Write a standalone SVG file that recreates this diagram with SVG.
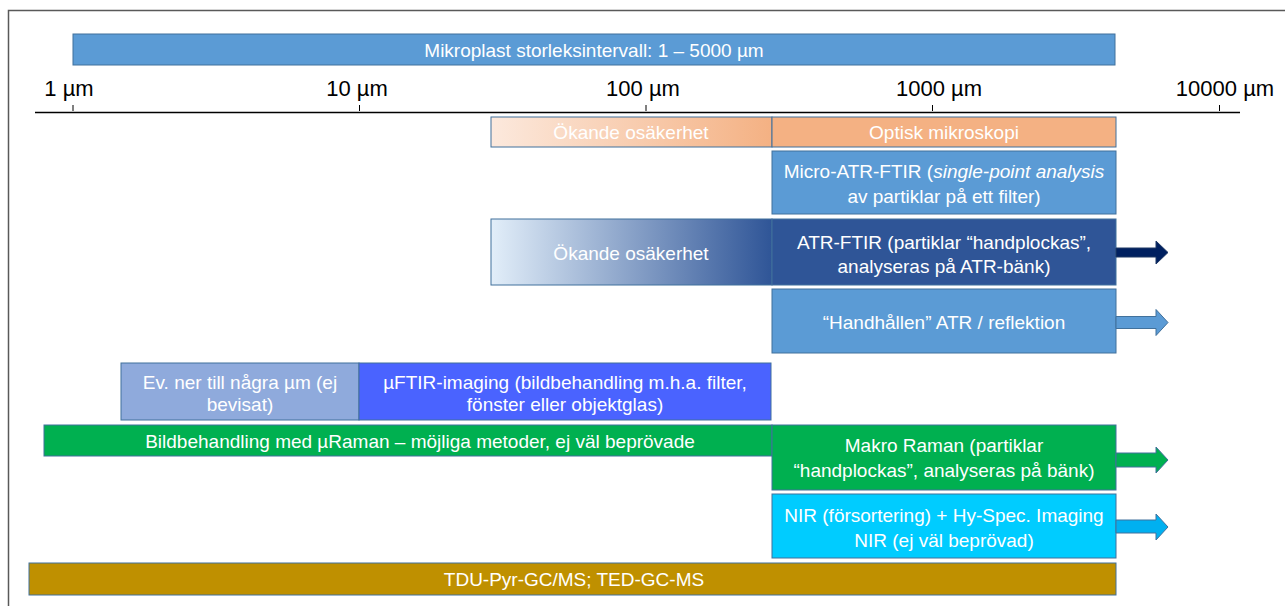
<svg xmlns="http://www.w3.org/2000/svg" width="1285" height="606" viewBox="0 0 1285 606">
<defs>
<linearGradient id="gOrange" x1="0" y1="0" x2="1" y2="0">
<stop offset="0" stop-color="#FCE9DD"/>
<stop offset="1" stop-color="#F4B183"/>
</linearGradient>
<linearGradient id="gBlue" x1="0" y1="0" x2="1" y2="0">
<stop offset="0" stop-color="#E2EEF9"/>
<stop offset="1" stop-color="#2F5597"/>
</linearGradient>
<style>
text{font-family:"Liberation Sans",Arial,sans-serif;}
.box{stroke:#41719C;stroke-width:1;}
.w{fill:#ffffff;font-size:19px;text-anchor:middle;}
.ax{fill:#000000;font-size:22px;text-anchor:middle;}
.tick{stroke:#000;stroke-width:1;}
</style>
</defs>
<rect x="8.5" y="10.5" width="1290" height="610" fill="none" stroke="#595959" stroke-width="1.5"/>
<g id="range">
<rect class="box" x="73" y="34" width="1042" height="31" fill="#5B9BD5"/>
<text class="w" x="594" y="57">Mikroplast storleksintervall: 1 – 5000 µm</text>
</g>
<g id="axis">
<line x1="35" y1="112.5" x2="1240" y2="112.5" stroke="#000" stroke-width="1.3"/>
<line class="tick" x1="73" y1="105" x2="73" y2="111"/>
<line class="tick" x1="359.5" y1="105" x2="359.5" y2="111"/>
<line class="tick" x1="646" y1="105" x2="646" y2="111"/>
<line class="tick" x1="932.5" y1="105" x2="932.5" y2="111"/>
<line class="tick" x1="1219.5" y1="105" x2="1219.5" y2="111"/>
<text class="ax" x="69" y="96">1 µm</text>
<text class="ax" x="357" y="96">10 µm</text>
<text class="ax" x="643" y="96">100 µm</text>
<text class="ax" x="939" y="96">1000 µm</text>
<text class="ax" x="1225" y="96">10000 µm</text>
</g>
<g id="unc1">
<rect class="box" x="491" y="117" width="281" height="30" fill="url(#gOrange)"/>
<text class="w" x="631" y="139">Ökande osäkerhet</text>
</g>
<g id="optisk">
<rect class="box" x="772" y="117" width="344" height="30" fill="#F4B183"/>
<text class="w" x="944" y="139">Optisk mikroskopi</text>
</g>
<g id="microatr">
<rect class="box" x="772" y="151" width="344" height="63" fill="#5B9BD5"/>
<text class="w" x="944" y="177.5">Micro-ATR-FTIR (<tspan font-style="italic">single-point analysis</tspan></text>
<text class="w" x="944" y="202.5">av partiklar på ett filter)</text>
</g>
<g id="unc2">
<rect class="box" x="491" y="219" width="281" height="66" fill="url(#gBlue)"/>
<text class="w" x="631" y="259.5">Ökande osäkerhet</text>
</g>
<g id="atrftir">
<rect class="box" x="772" y="219" width="344" height="66" fill="#2F5597"/>
<text class="w" x="944" y="249">ATR-FTIR (partiklar “handplockas”,</text>
<text class="w" x="944" y="273">analyseras på ATR-bänk)</text>
</g>
<g id="handhallen">
<rect class="box" x="772" y="289" width="344" height="64" fill="#5B9BD5"/>
<text class="w" x="944" y="328.5">“Handhållen” ATR / reflektion</text>
</g>
<g id="evner">
<rect class="box" x="121" y="363" width="238" height="57" fill="#8FAADC"/>
<text class="w" x="240" y="388.5">Ev. ner till några µm (ej</text>
<text class="w" x="240" y="410.5">bevisat)</text>
</g>
<g id="mufTIR">
<rect class="box" x="359" y="363" width="412" height="57" fill="#4A63FF"/>
<text class="w" x="565" y="388.5">µFTIR-imaging (bildbehandling m.h.a. filter,</text>
<text class="w" x="565" y="410.5">fönster eller objektglas)</text>
</g>
<g id="muraman">
<rect class="box" x="44" y="425" width="728" height="31" fill="#00B050"/>
<text class="w" x="420" y="448">Bildbehandling med µRaman – möjliga metoder, ej väl beprövade</text>
</g>
<g id="makro">
<rect class="box" x="772" y="425" width="344" height="65" fill="#00B050"/>
<text class="w" x="944" y="451.5">Makro Raman (partiklar</text>
<text class="w" x="944" y="477">“handplockas”, analyseras på bänk)</text>
</g>
<g id="nir">
<rect class="box" x="772" y="494" width="344" height="64" fill="#00CCFF"/>
<text class="w" x="944" y="521.5">NIR (försortering) + Hy-Spec. Imaging</text>
<text class="w" x="944" y="546.5">NIR (ej väl beprövad)</text>
</g>
<g id="tdu">
<rect class="box" x="29" y="563" width="1087" height="32" fill="#BF9000"/>
<text class="w" x="574" y="585.5">TDU-Pyr-GC/MS; TED-GC-MS</text>
</g>
<g id="connectors">
<path d="M1116 248 H1156 V241 L1168 252.5 L1156 264 V257 H1116 Z" fill="#002060" stroke="#1F3864" stroke-width="1"/>
<path d="M1116 316.5 H1156 V309.5 L1168 322.5 L1156 335.5 V328.5 H1116 Z" fill="#5B9BD5" stroke="#41719C" stroke-width="1"/>
<path d="M1116 453 H1156 V447 L1168 460 L1156 473 V467 H1116 Z" fill="#00B050" stroke="#41719C" stroke-width="1"/>
<path d="M1116 520 H1156 V514 L1168 527 L1156 540 V533 H1116 Z" fill="#00B0F0" stroke="#41719C" stroke-width="1"/>
</g>
</svg>
